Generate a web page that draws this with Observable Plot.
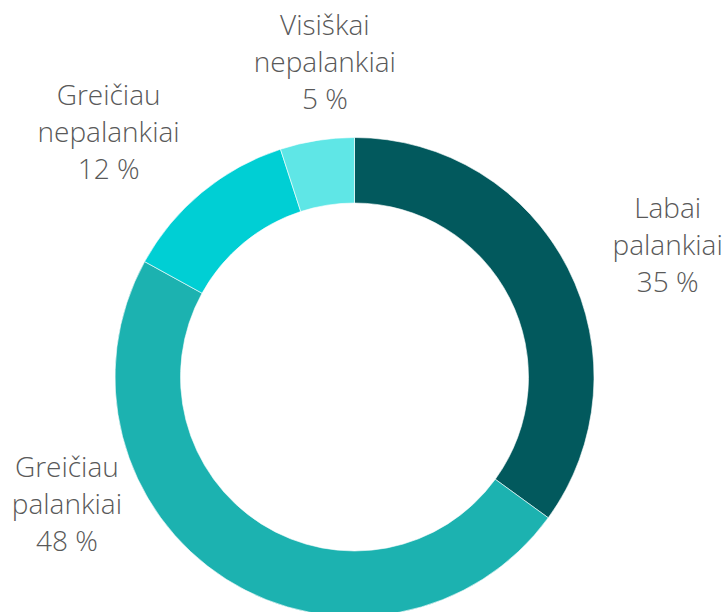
<!DOCTYPE html>
<html>
<head>
<meta charset="utf-8">
<script src="https://cdn.jsdelivr.net/npm/d3@7"></script>
<script src="https://cdn.jsdelivr.net/npm/@observablehq/plot@0.6"></script>
<style>
  html, body { margin: 0; padding: 0; background: #fff; }
</style>
</head>
<body>
<div id="chart"></div>
<script>
// Data
const categories = ["Labai palankiai", "Greičiau palankiai", "Greičiau nepalankiai", "Visiškai nepalankiai"];
const shares = [35, 48, 12, 5];
const valueLabels = ["35 %", "48 %", "12 %", "5 %"];
const labelLines = [["Labai", "palankiai"], ["Greičiau", "palankiai"], ["Greičiau", "nepalankiai"], ["Visiškai", "nepalankiai"]];
const colors = ["#02595D", "#1CB2B0", "#00CFD4", "#5FE6E6"];

// Layout (not data)
const W = 726, H = 612;
const cx = 354.5, cy = 377, R = 239.5, innerFrac = 174 / 239.5;
const labelNudge = [ {dA: 4.3, r: 1.415}, {dA: 33.5, r: 1.318}, {dA: -5.8, r: 1.445}, {dA: 3.5, r: 1.315} ];

const table = categories.map((c, i) => ({category: c, share: shares[i], color: colors[i], i}));
const arcs = d3.pie().value(d => d.share).sort(null).startAngle(0).endAngle(2 * Math.PI)(table);

const labels = arcs.map((a, i) => {
  const mid = (a.startAngle + a.endAngle) / 2 + labelNudge[i].dA * Math.PI / 180;
  const r = labelNudge[i].r;
  return {
    x: Math.sin(mid) * r,
    y: Math.cos(mid) * r,
    text: [...labelLines[i], valueLabels[i]].join("\n")
  };
});

function donut(index, scales) {
  const x0 = scales.x(0), y0 = scales.y(0);
  const rad = scales.x(1) - scales.x(0);
  const arcGen = d3.arc().outerRadius(rad).innerRadius(rad * innerFrac);
  const g = d3.create("svg:g").attr("transform", `translate(${x0},${y0})`);
  g.selectAll("path").data(arcs).join("path")
    .attr("d", arcGen)
    .attr("fill", d => d.data.color)
    .attr("stroke", "#ffffff")
    .attr("stroke-width", 0.6);
  return g.node();
}

const chart = Plot.plot({
  width: W,
  height: H,
  margin: 0,
  x: {domain: [-cx / R, (W - cx) / R], range: [0, W], axis: null},
  y: {domain: [-(H - cy) / R, cy / R], range: [H, 0], axis: null},
  style: {background: "#fff"},
  marks: [
    donut,
    Plot.text(labels, {
      x: "x", y: "y", text: "text",
      dy: -4,
      fontSize: 28,
      fontFamily: "Open Sans",
      fontWeight: 300,
      fill: "#595959",
      lineHeight: 1.32,
      textAnchor: "middle"
    })
  ]
});
document.getElementById("chart").append(chart);
</script>
</body>
</html>
